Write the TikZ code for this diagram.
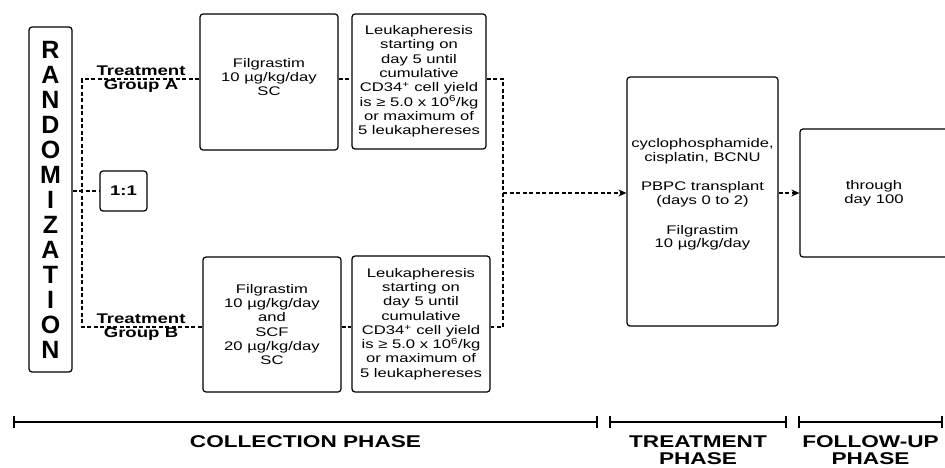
\documentclass[tikz,border=0pt]{standalone}
\usepackage{fontspec}
\setmainfont[FakeStretch=1.33]{Liberation Sans}
\newfontfamily\randfont{Liberation Sans}
\usetikzlibrary{arrows.meta}

\begin{document}
\begin{tikzpicture}[x=1pt, y=-1pt,
    box/.style={draw, line width=1.2pt, rounded corners=3pt, inner sep=0pt, align=center,
      font=\fontsize{12.5}{14.3}\selectfont},
    txt/.style={align=center, inner sep=0pt, font=\fontsize{12.5}{13.6}\selectfont},
    grp/.style={align=center, font=\bfseries\fontsize{14}{14}\selectfont},
    link/.style={line width=1.2pt, dash pattern=on 4pt off 2.5pt},
    arr/.style={link, -{Stealth[length=8pt, width=7pt]}},
    phase/.style={line width=1.8pt, {Bar[width=12pt]}-{Bar[width=12pt]}},
    phaselabel/.style={align=center, font=\bfseries\fontsize{17}{17.5}\selectfont}]
    \useasboundingbox (0,0) rectangle (945,468);

    \node [box, minimum width=43, minimum height=345,
      font=\randfont\bfseries\fontsize{25}{25}\selectfont] (rand) at (50.5, 199.5)
      {R\\A\\N\\D\\O\\M\\I\\Z\\A\\T\\I\\O\\N};
    \node [box, minimum width=47, minimum height=40, font=\bfseries\fontsize{14}{14}\selectfont]
      (ratio) at (123.5, 191) {1:1};

    \node [box, minimum width=138, minimum height=136] (filA) at (269, 82) {};
    \node [txt] (filAtext) at (269, 77) {Filgrastim\\10 µg/kg/day\\SC};
    \node [box, minimum width=134, minimum height=135] (leuA) at (419, 81.5)
      {Leukapheresis\\starting on\\day 5 until\\cumulative\\CD34\textsuperscript{+} cell yield\\is ≥ 5.0 x 10\textsuperscript{6}/kg\\or maximum of\\5 leukaphereses};
    \node [box, minimum width=138, minimum height=135] (filB) at (272, 324.5)
      {Filgrastim\\10 µg/kg/day\\and\\SCF\\20 µg/kg/day\\SC};
    \node [box, minimum width=138, minimum height=136] (leuB) at (421, 324)
      {Leukapheresis\\starting on\\day 5 until\\cumulative\\CD34\textsuperscript{+} cell yield\\is ≥ 5.0 x 10\textsuperscript{6}/kg\\or maximum of\\5 leukaphereses};

    \node [box, minimum width=151, minimum height=249] (treat) at (702.5, 201.5) {};
    \node [txt] (treattext) at (702.5, 194.5)
      {cyclophosphamide,\\cisplatin, BCNU\\[16pt]PBPC transplant\\(days 0 to 2)\\[16pt]Filgrastim\\10 µg/kg/day};
    \node [box, minimum width=148, minimum height=128] (follow) at (874, 193)
      {through\\day 100};

    \node [grp] (grpA) at (141, 79) {Treatment\\Group A};
    \node [grp] (grpB) at (141, 327) {Treatment\\Group B};

    \coordinate (splitA) at (82, 79);
    \coordinate (splitB) at (82, 327);
    \coordinate (mergeA) at (503, 79);
    \coordinate (mergeB) at (503, 327);
    \coordinate (merge) at (503, 193);

    \draw [link] (rand.east |- ratio) -- (ratio);
    \draw [link] (filA.west |- splitA) -- (splitA) -- (splitB) -- (filB.west |- splitB);
    \draw [link] (filA.east |- splitA) -- (leuA.west |- splitA);
    \draw [link] (filB.east |- splitB) -- (leuB.west |- splitB);
    \draw [link] (leuA.east |- mergeA) -- (mergeA) -- (mergeB) -- (leuB.east |- mergeB);
    \draw [arr] (merge) -- (treat.west |- merge);
    \draw [arr] (treat.east |- follow) -- (follow);

    \draw [phase] (13, 422) -- (598, 422);
    \draw [phase] (609, 422) -- (787, 422);
    \draw [phase] (798, 422) -- (943, 422);
    \node [phaselabel, anchor=north] (collect) at (305.5, 432) {COLLECTION PHASE};
    \node [phaselabel, anchor=north] (treatph) at (698, 432) {TREATMENT\\PHASE};
    \node [phaselabel, anchor=north] (followph) at (870.5, 432) {FOLLOW-UP\\PHASE};
  \end{tikzpicture}
\end{document}
